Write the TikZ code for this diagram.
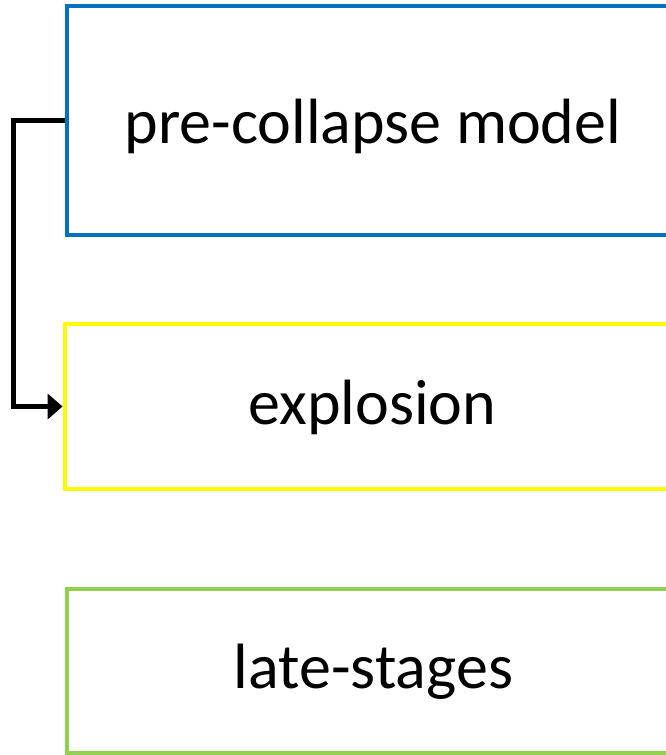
\documentclass[tikz,border=0pt]{standalone}
\usepackage{fontspec}
\setmainfont{Carlito}
\usetikzlibrary{arrows.meta}
\definecolor{boxblue}{HTML}{0070C0}
\definecolor{boxyellow}{HTML}{FFFF00}
\definecolor{boxgreen}{HTML}{92D050}
\begin{document}
\begin{tikzpicture}[x=1pt,y=1pt,
  stagebox/.style={draw, line width=4.8pt, rectangle, inner sep=0pt, minimum width=612pt,
    font=\fontsize{64}{76}\selectfont, text=black, text depth=12pt},
  link/.style={line width=4.5pt, -{Triangle[length=15pt,width=25pt]}}]
\useasboundingbox (0,0) rectangle (666,-755);
\clip (0,0) rectangle (666,-755);
\node[stagebox, draw=boxblue, minimum height=229pt, text height=57pt] (pre) at (373,-120.5) {pre-collapse model};
\node[stagebox, draw=boxyellow, minimum height=165pt, minimum width=615pt, text height=47pt] (expl) at (372.5,-406.5) {explosion};
\node[stagebox, draw=boxgreen, minimum height=164pt, minimum width=613pt, text height=46pt] (late) at (373.5,-671) {late-stages};
\draw[link] (pre.west) -- ++(-51,0) |- (expl.west);
\end{tikzpicture}
\end{document}
